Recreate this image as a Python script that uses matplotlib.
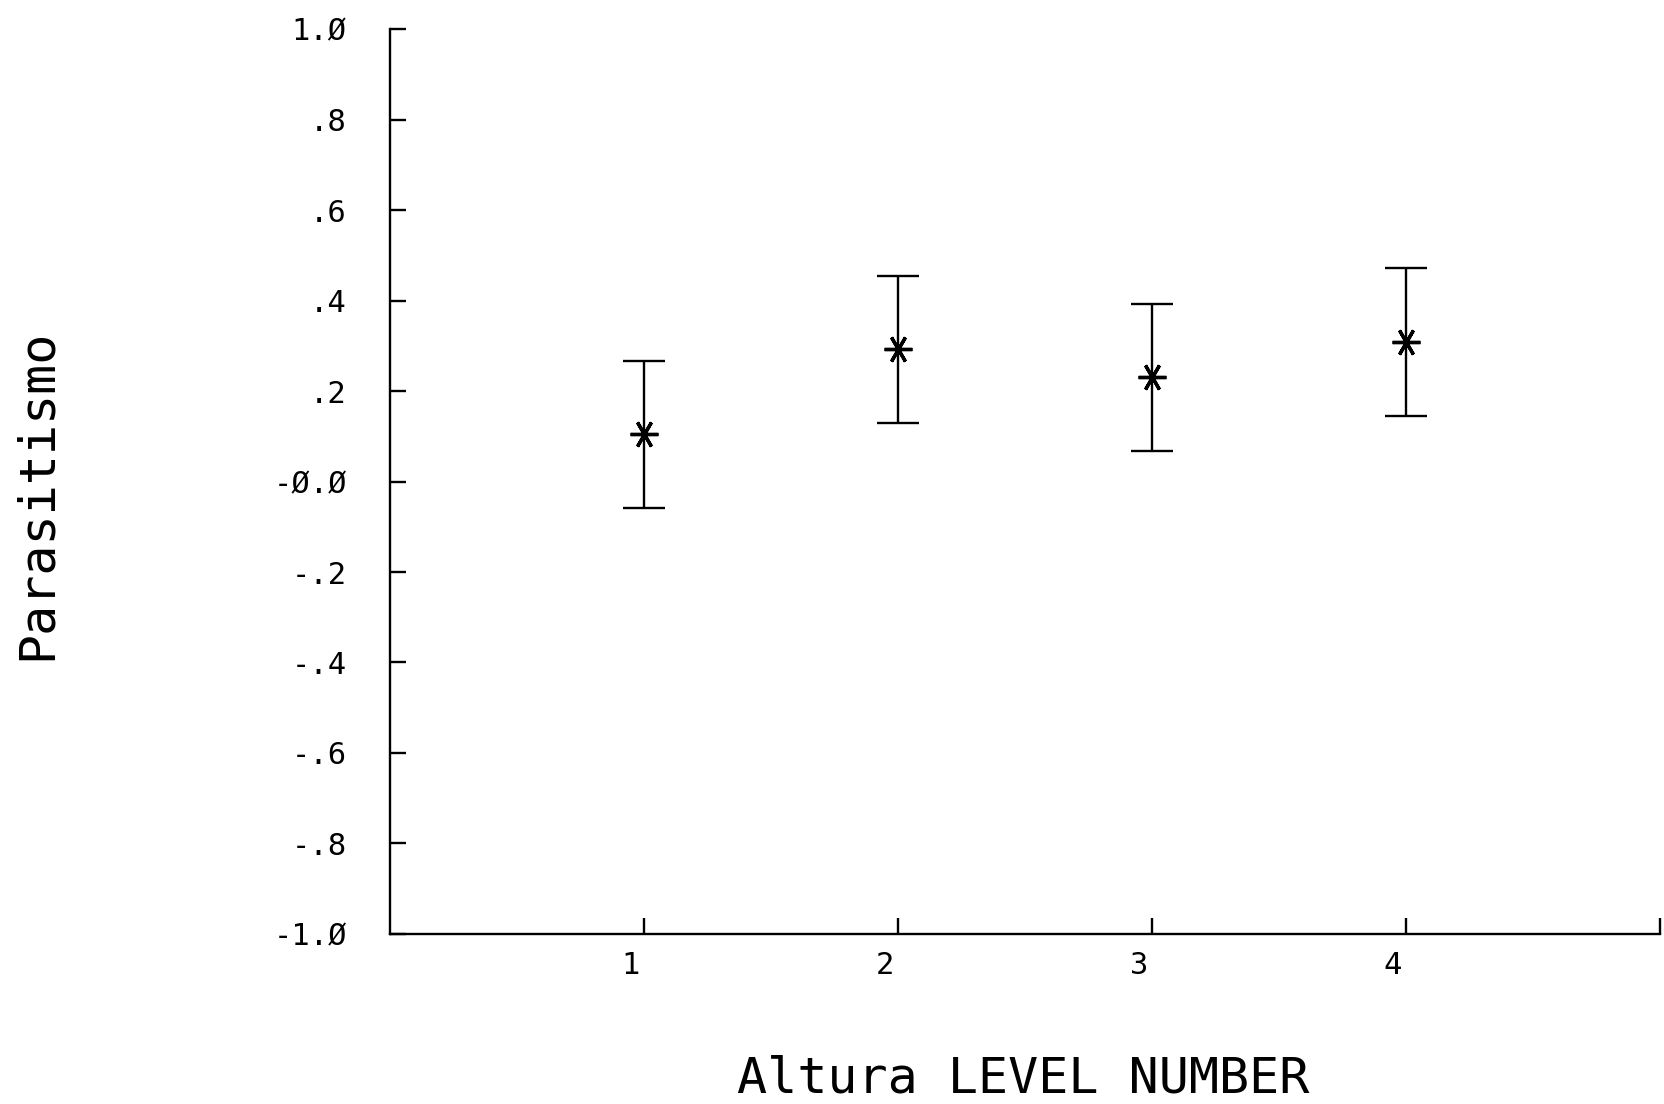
import matplotlib
matplotlib.use("Agg")
import matplotlib.pyplot as plt
import matplotlib.transforms as mtransforms

# Mean parasitism per height level, with symmetric error half-widths
levels = [1, 2, 3, 4]
parasitismo = [0.104, 0.292, 0.230, 0.308]
error = [0.163, 0.162, 0.163, 0.163]

x_ticks = [1, 2, 3, 4, 5]
x_tick_labels = ["1", "2", "3", "4", ""]
y_ticks = [1.0, 0.8, 0.6, 0.4, 0.2, 0.0, -0.2, -0.4, -0.6, -0.8, -1.0]
y_tick_labels = ["1.Ø", ".8", ".6", ".4", ".2", "-Ø.Ø",
                 "-.2", "-.4", "-.6", "-.8", "-1.Ø"]

plt.rcParams["font.family"] = ["DejaVu Sans Mono", "DejaVu Sans"]

fig = plt.figure(figsize=(16.65, 11.04), dpi=100)
fig.patch.set_facecolor("white")
ax = fig.add_axes([0.2342, 0.154, 0.7628, 0.8197])

ax.errorbar(levels, parasitismo, yerr=error, fmt="none", ecolor="black",
            elinewidth=1.7, capsize=15, capthick=1.7)
# six-armed asterisk with a vertical arm
ax.plot(levels, parasitismo, linestyle="none", marker=(6, 2, 90),
        markersize=20, markeredgewidth=2.4, color="black")

ax.set_xlim(0, 5)
ax.set_ylim(-1.0, 1.0)

for side in ("top", "right"):
    ax.spines[side].set_visible(False)
for side in ("left", "bottom"):
    ax.spines[side].set_linewidth(1.7)
    ax.spines[side].set_color("black")

ax.set_xticks(x_ticks)
ax.set_xticklabels(x_tick_labels)
ax.set_yticks(y_ticks)
ax.set_yticklabels(y_tick_labels)

ax.tick_params(axis="both", direction="in", length=11.5, width=1.7,
               colors="black", labelsize=22)
ax.tick_params(axis="y", pad=31)
ax.tick_params(axis="x", pad=12)

# x tick labels sit slightly left of their ticks
shift = mtransforms.ScaledTranslation(-13 / 100, 0, fig.dpi_scale_trans)
for lab in ax.get_xticklabels():
    lab.set_transform(lab.get_transform() + shift)

fig.text(0.6145, 0.023, "Altura LEVEL NUMBER", ha="center", va="center",
         fontsize=36, color="black")
fig.text(0.022, 0.552, "Parasitismo", ha="center", va="center",
         rotation=90, fontsize=36, color="black")

fig.savefig("out.png", dpi=100, facecolor="white")
